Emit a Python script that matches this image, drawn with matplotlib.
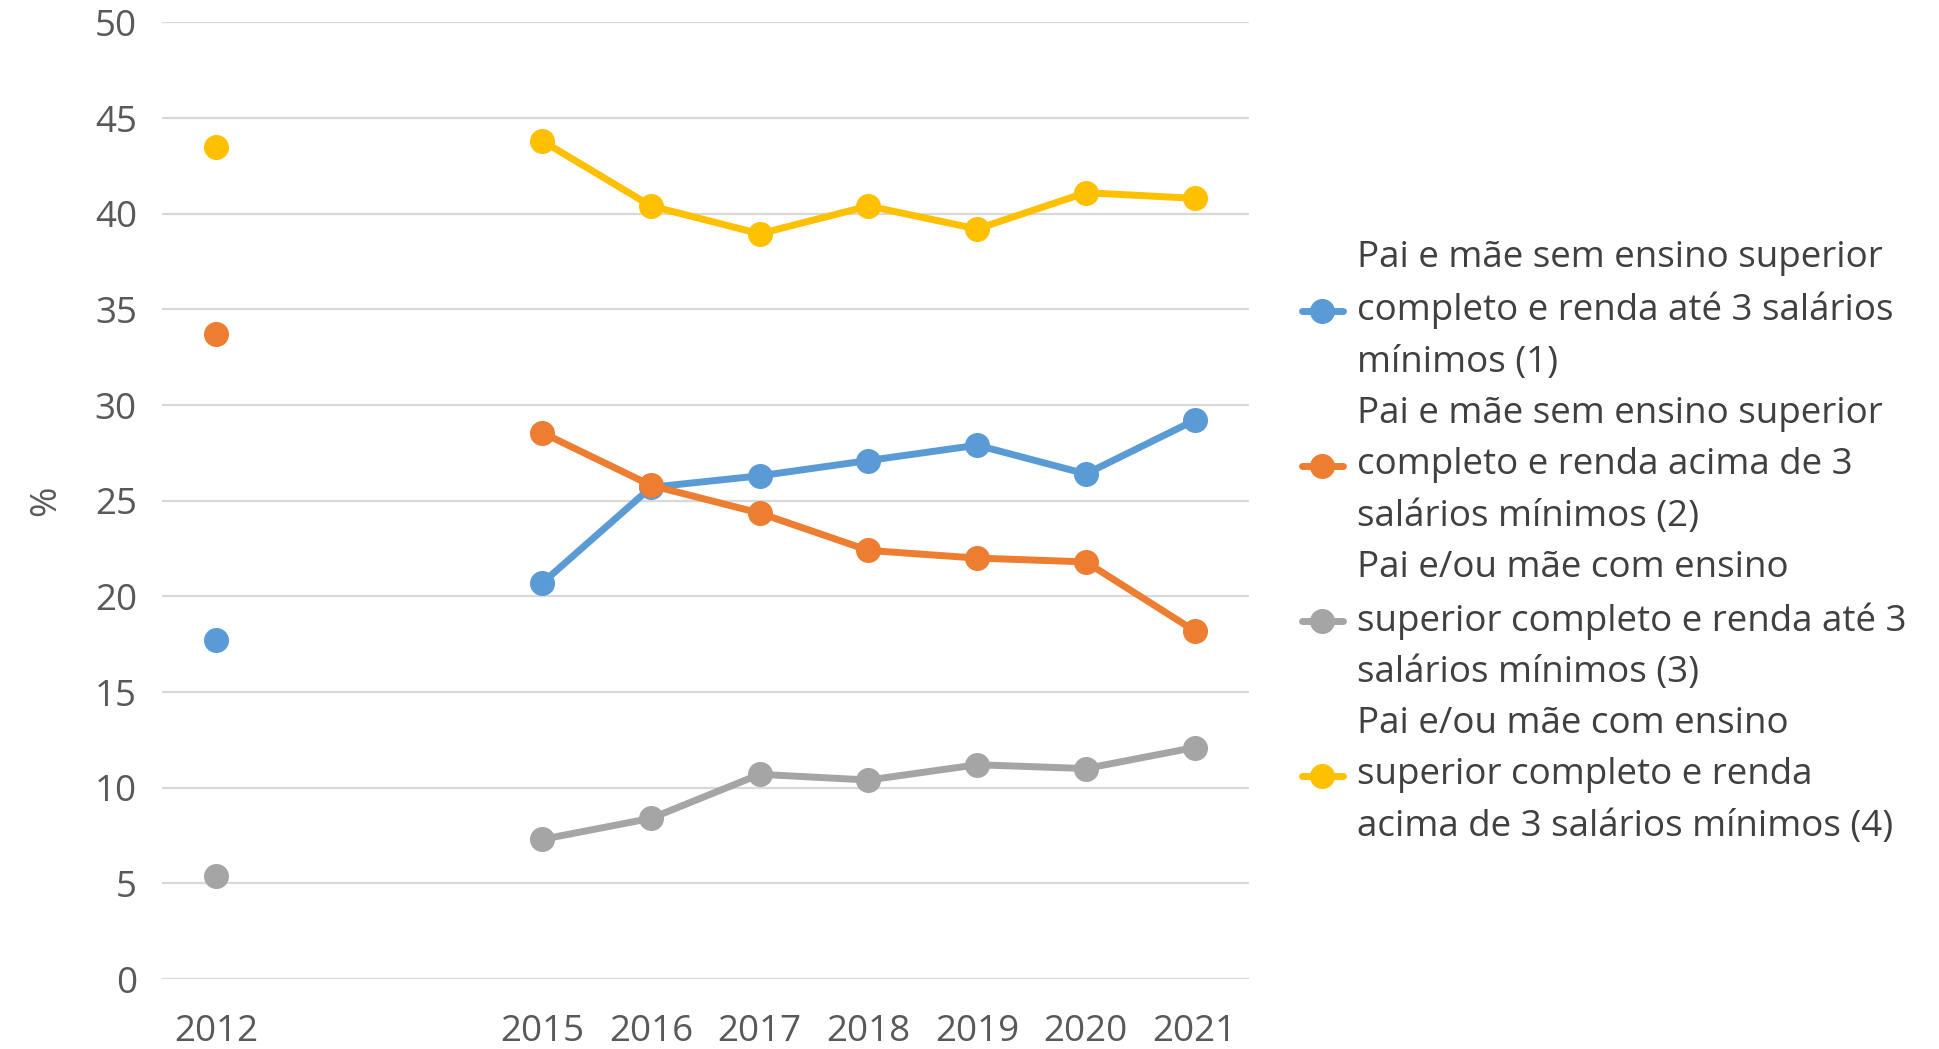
import matplotlib.pyplot as plt

years = ["2012", "2013", "2014", "2015", "2016", "2017", "2018", "2019", "2020", "2021"]
year_labels = ["2012", "", "", "2015", "2016", "2017", "2018", "2019", "2020", "2021"]

# values (%) by year; None = no survey
grupo1 = [17.7, None, None, 20.7, 25.7, 26.3, 27.1, 27.9, 26.4, 29.2]
grupo2 = [33.7, None, None, 28.55, 25.8, 24.35, 22.4, 22.0, 21.8, 18.2]
grupo3 = [5.4, None, None, 7.3, 8.4, 10.7, 10.4, 11.2, 11.0, 12.1]
grupo4 = [43.5, None, None, 43.8, 40.4, 38.95, 40.4, 39.2, 41.1, 40.8]

labels = [
    "Pai e mãe sem ensino superior\ncompleto e renda até 3 salários\nmínimos (1)",
    "Pai e mãe sem ensino superior\ncompleto e renda acima de 3\nsalários mínimos (2)",
    "Pai e/ou mãe com ensino\nsuperior completo e renda até 3\nsalários mínimos (3)",
    "Pai e/ou mãe com ensino\nsuperior completo e renda\nacima de 3 salários mínimos (4)",
]
colors = ["#5B9BD5", "#ED7D31", "#A5A5A5", "#FFC000"]

plt.rcParams["font.family"] = ["Open Sans", "DejaVu Sans"]

fig = plt.figure(figsize=(19.39, 10.49), dpi=100)
ax = fig.add_axes([0.0835, 0.0667, 0.5606, 0.912])

x = list(range(len(years)))
for vals, lab, c in zip([grupo1, grupo2, grupo3, grupo4], labels, colors):
    yv = [float("nan") if v is None else v for v in vals]
    ax.plot(x, yv, color=c, lw=5, marker="o", ms=17, label=lab,
            solid_capstyle="round")

ax.set_xlim(-0.5, len(years) - 0.5)
ax.set_ylim(0, 50)
ax.set_yticks(range(0, 51, 5))
ax.set_xticks(x)
ax.set_xticklabels(year_labels)
ax.grid(axis="y", color="#D9D9D9", lw=1.6)
ax.set_axisbelow(True)
for s in ax.spines.values():
    s.set_visible(False)
ax.tick_params(length=0, labelsize=26.5, labelcolor="#595959")
ax.tick_params(axis="x", pad=25)
ax.tick_params(axis="y", pad=18)
ax.set_ylabel("%", fontsize=26.5, color="#595959", labelpad=22)

leg = fig.legend(loc="upper left", bbox_to_anchor=(0.662, 0.789),
                 frameon=False, fontsize=26.5, labelspacing=0.41,
                 handlelength=1.1, handletextpad=0.4, borderpad=0)
for t in leg.get_texts():
    t.set_color("#404040")
    t.set_linespacing(1.57)

fig.savefig("out.png", dpi=100)
